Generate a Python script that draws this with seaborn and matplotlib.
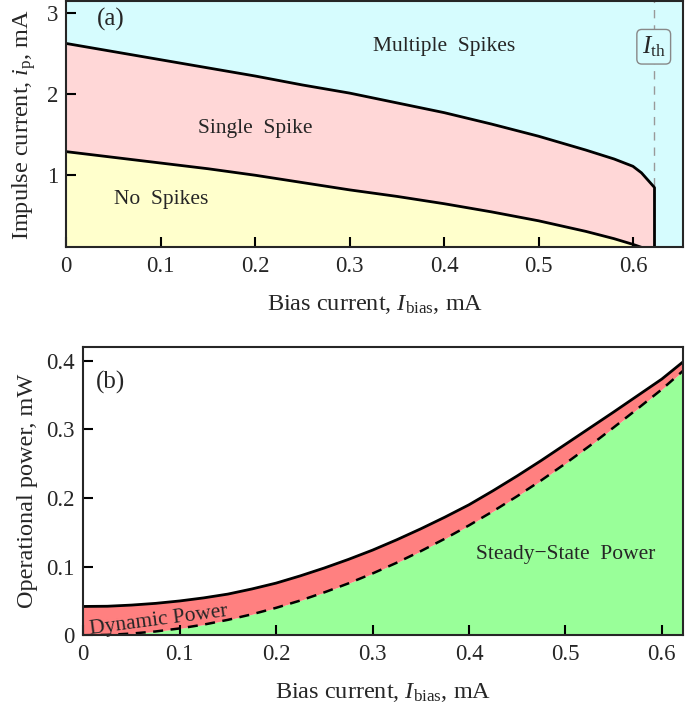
import numpy as np
import pandas as pd
import seaborn as sns
import matplotlib.pyplot as plt
from matplotlib.ticker import FixedLocator

# -------- Panel (a): spiking regime boundaries --------
ibias_a = [0.0, 0.05, 0.1, 0.15, 0.2, 0.25, 0.3, 0.35, 0.4, 0.45, 0.5, 0.55, 0.58, 0.6, 0.609, 0.622]
upper_a = [2.62, 2.52, 2.42, 2.32, 2.22, 2.11, 2.01, 1.89, 1.77, 1.63, 1.48, 1.31, 1.20, 1.11, 1.03, 0.86]
lower_ibias = [0.0, 0.05, 0.1, 0.15, 0.2, 0.25, 0.3, 0.35, 0.4, 0.45, 0.5, 0.55, 0.58, 0.6, 0.609]
lower_a = [1.29, 1.22, 1.15, 1.08, 1.00, 0.91, 0.82, 0.74, 0.65, 0.55, 0.44, 0.31, 0.22, 0.15, 0.114]
i_th = 0.622
region_labels = ["Multiple  Spikes", "Single  Spike", "No  Spikes"]

# -------- Panel (b): operational power --------
ibias_b = [0.0, 0.025, 0.05, 0.075, 0.1, 0.125, 0.15, 0.175, 0.2, 0.225, 0.25, 0.275, 0.3,
           0.325, 0.35, 0.375, 0.4, 0.425, 0.45, 0.475, 0.5, 0.525, 0.55, 0.575, 0.6, 0.622]
total_power = [0.042, 0.0423, 0.044, 0.0465, 0.050, 0.0545, 0.060, 0.0675, 0.076, 0.0865, 0.098,
               0.1105, 0.124, 0.139, 0.155, 0.172, 0.190, 0.2105, 0.232, 0.2545, 0.278, 0.3015,
               0.325, 0.349, 0.373, 0.398]
steady_power = [0.0, 0.0006, 0.0025, 0.0056, 0.010, 0.0156, 0.0225, 0.0306, 0.040, 0.0506, 0.0625,
                0.0756, 0.090, 0.1056, 0.1225, 0.1406, 0.160, 0.1806, 0.2025, 0.2256, 0.250,
                0.2756, 0.3025, 0.330, 0.358, 0.385]

sns.set_style("ticks")
plt.rcParams["font.family"] = ["Liberation Serif", "DejaVu Serif"]
plt.rcParams["mathtext.fontset"] = "custom"
plt.rcParams["mathtext.rm"] = "Liberation Serif"
plt.rcParams["mathtext.it"] = "Liberation Serif:italic"
plt.rcParams["mathtext.bf"] = "Liberation Serif:bold"

CYAN, PINK, YELLOW = "#d6fcfe", "#ffd7d7", "#ffffcc"
RED, GREEN = "#ff8080", "#99ff99"
TICKS_X = [0, 0.1, 0.2, 0.3, 0.4, 0.5, 0.6]

fig = plt.figure(figsize=(6.9, 7.1), dpi=100)
gs1 = fig.add_gridspec(1, 1, left=66.3 / 690, right=683 / 690, top=1 - 1.2 / 710, bottom=1 - 247.3 / 710)
gs2 = fig.add_gridspec(1, 1, left=83.3 / 690, right=683 / 690, top=1 - 346.8 / 710, bottom=1 - 635.3 / 710)
ax1 = fig.add_subplot(gs1[0])
ax2 = fig.add_subplot(gs2[0])

# ---- (a) ----
ymin_a, ymax_a = 0.114, 3.14
ax1.set_facecolor(CYAN)
up = pd.DataFrame({"x": ibias_a, "y": upper_a})
lo = pd.DataFrame({"x": lower_ibias, "y": lower_a})
ax1.fill_between(up["x"], ymin_a, up["y"], color=PINK, lw=0)
ax1.fill_between(lo["x"], ymin_a, lo["y"], color=YELLOW, lw=0)
sns.lineplot(data=up, x="x", y="y", ax=ax1, color="black", lw=2, sort=False)
ax1.plot([i_th, i_th], [upper_a[-1], ymin_a], color="black", lw=2)
sns.lineplot(data=lo, x="x", y="y", ax=ax1, color="black", lw=2, sort=False)
ax1.axvline(i_th, color="#999999", lw=1, ls=(0, (6, 5)), zorder=1)
ax1.text(i_th, 2.58, r"$I_{\mathrm{th}}$", ha="center", va="center", fontsize=18,
         bbox=dict(boxstyle="round,pad=0.2", fc=CYAN, ec="#888888", lw=1))
ax1.text(0.4, 2.58, region_labels[0], ha="center", va="center", fontsize=15.5)
ax1.text(0.2, 1.58, region_labels[1], ha="center", va="center", fontsize=15.5)
ax1.text(0.1, 0.7, region_labels[2], ha="center", va="center", fontsize=15.5)
ax1.text(0.047, 2.91, "(a)", ha="center", va="center", fontsize=18)
ax1.set_xlim(0, 0.653)
ax1.set_ylim(ymin_a, ymax_a)
ax1.xaxis.set_major_locator(FixedLocator(TICKS_X))
ax1.yaxis.set_major_locator(FixedLocator([1, 2, 3]))
ax1.set_xticklabels(["0", "0.1", "0.2", "0.3", "0.4", "0.5", "0.6"])
ax1.set_xlabel(r"Bias current, $I_{\mathrm{bias}}$, mA", fontsize=17.5, labelpad=12)
ax1.set_ylabel(r"Impulse current, $i_{\mathrm{p}}$, mA", fontsize=17.5, labelpad=6)

# ---- (b) ----
pw = pd.DataFrame({"x": ibias_b, "total": total_power, "steady": steady_power})
ax2.fill_between(pw["x"], 0, pw["steady"], color=GREEN, lw=0)
ax2.fill_between(pw["x"], pw["steady"], pw["total"], color=RED, lw=0)
sns.lineplot(data=pw, x="x", y="total", ax=ax2, color="black", lw=2)
sns.lineplot(data=pw, x="x", y="steady", ax=ax2, color="black", lw=1.8, ls=(0, (4, 3)))
ax2.text(0.005, 0.021, "Dynamic Power", ha="left", va="center", fontsize=15.5, rotation=7.5)
ax2.text(0.5, 0.117, "Steady\u2212State  Power", ha="center", va="center", fontsize=15.5)
ax2.text(0.028, 0.368, "(b)", ha="center", va="center", fontsize=18)
ax2.set_xlim(0, 0.622)
ax2.set_ylim(0, 0.42)
ax2.xaxis.set_major_locator(FixedLocator(TICKS_X))
ax2.yaxis.set_major_locator(FixedLocator([0, 0.1, 0.2, 0.3, 0.4]))
ax2.set_xticklabels(["0", "0.1", "0.2", "0.3", "0.4", "0.5", "0.6"])
ax2.set_yticklabels(["0", "0.1", "0.2", "0.3", "0.4"])
ax2.set_xlabel(r"Bias current, $I_{\mathrm{bias}}$, mA", fontsize=17.5, labelpad=12)
ax2.set_ylabel("Operational power, mW", fontsize=17.5, labelpad=6)

for ax in (ax1, ax2):
    ax.set_axisbelow(False)
    for s in ax.spines.values():
        s.set_linewidth(1.5)
        s.set_zorder(5)
    ax.tick_params(direction="in", labelsize=16.5, width=1.5, length=7,
                   color="black", top=False, right=False, pad=6)

fig.savefig("out.png", dpi=100)
